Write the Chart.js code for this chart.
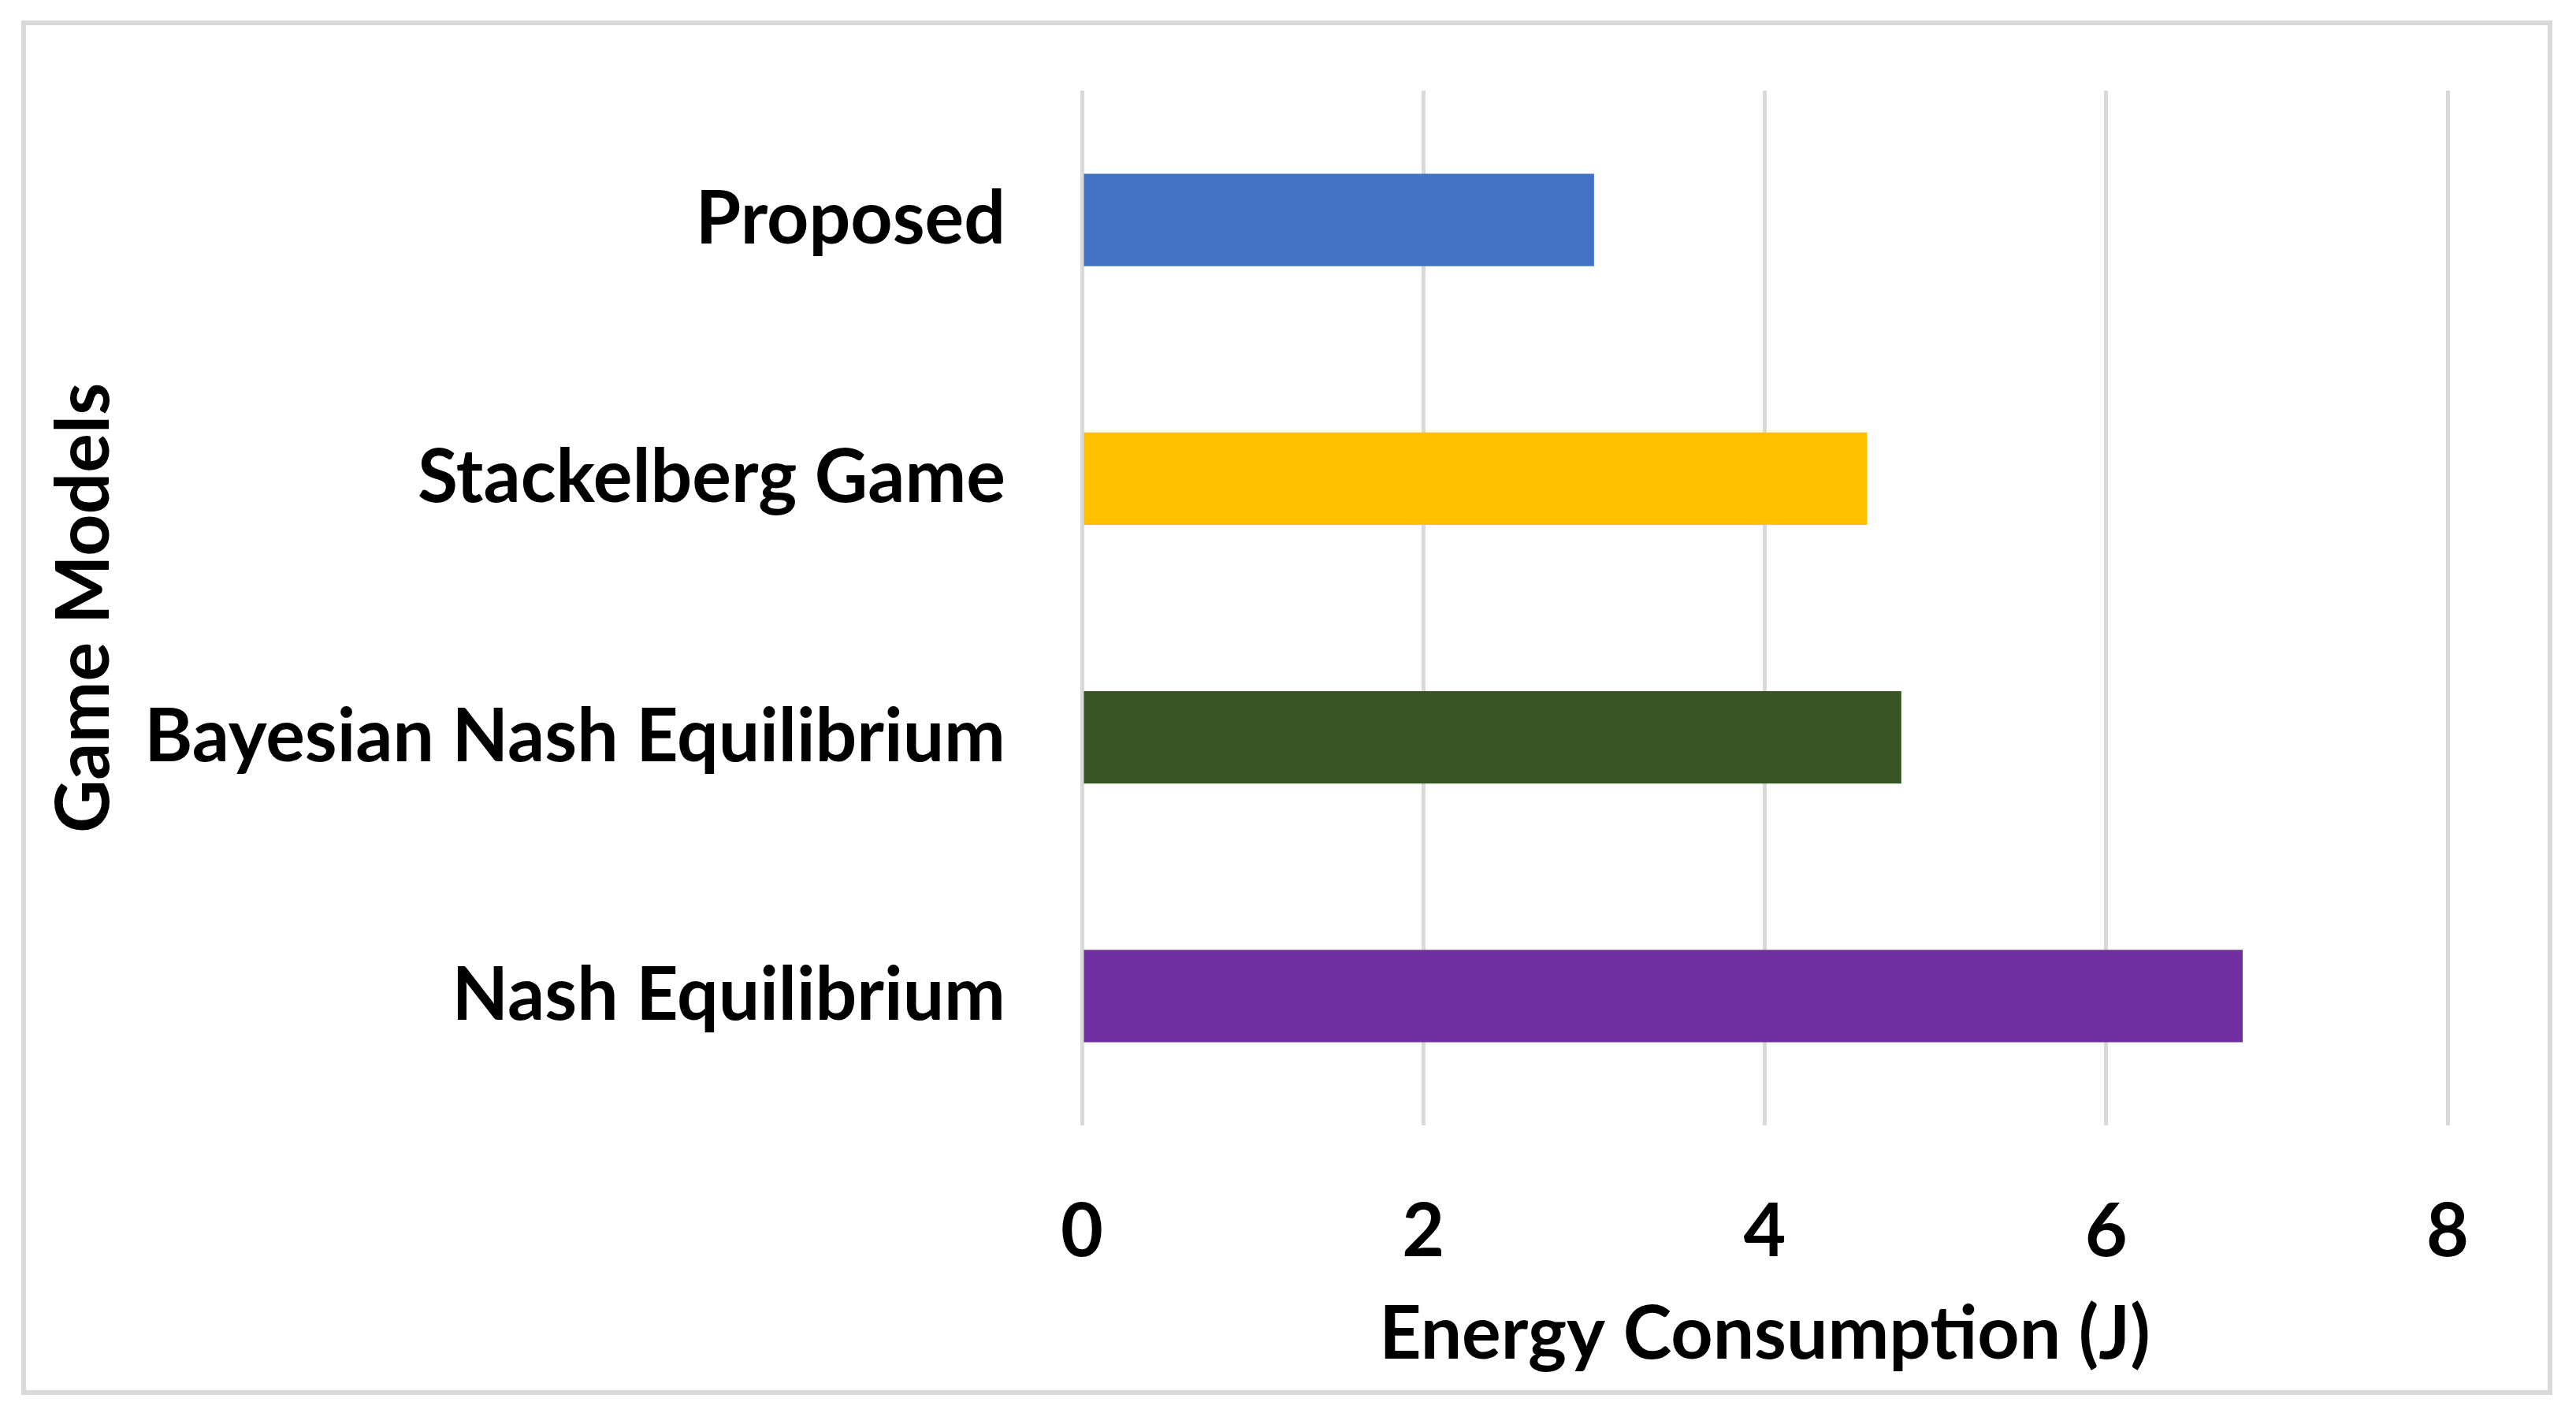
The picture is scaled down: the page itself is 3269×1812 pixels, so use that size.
<!DOCTYPE html>
<html>
<head>
<meta charset="utf-8">
<script src="https://cdn.jsdelivr.net/npm/chart.js@4/dist/chart.umd.min.js"></script>
<style>
  html, body { margin: 0; padding: 0; background: #fff; }
  #wrap { position: relative; width: 3269px; height: 1812px; }
  #frame {
    position: absolute; left: 27px; top: 26px;
    width: 3200px; height: 1732px;
    border: 6px solid #d9d9d9;
  }
  canvas { position: absolute; left: 0; top: 0; }
</style>
</head>
<body>
<div id="wrap">
  <div id="frame"></div>
  <canvas id="myChart" width="3269" height="1812"></canvas>
</div>
<script>
// data
var models = ["Proposed", "Stackelberg Game", "Bayesian Nash Equilibrium", "Nash Equilibrium"];
var energy = [3.0, 4.6, 4.8, 6.8];
var barColors = ["#4472C4", "#FFC000", "#375623", "#7030A0"];
var xTicks = [0, 2, 4, 6, 8];

var fontFam = "Lato, 'Open Sans', sans-serif";
var bigFont = { family: fontFam, size: 93, weight: "bold" };

new Chart("myChart", {
  type: "bar",
  data: {
    labels: models,
    datasets: [{
      data: energy,
      backgroundColor: barColors,
      barPercentage: 0.357,
      categoryPercentage: 1
    }]
  },
  options: {
    indexAxis: "y",
    responsive: false,
    animation: false,
    layout: { padding: { left: 0, top: 115, right: 3269 - 3106, bottom: 0 } },
    plugins: {
      legend: { display: false },
      tooltip: { enabled: false }
    },
    scales: {
      y: {
        grid: { display: false, drawTicks: false, tickLength: 0 },
        border: { display: false },
        ticks: { color: "#000", font: bigFont, padding: 97 },
        title: {
          display: true,
          text: "Game Models",
          color: "#000",
          font: bigFont,
          padding: { top: 52, bottom: 0 }
        },
        afterFit: function (scale) {
          // category labels sit mid-band, no need for extra room above/below
          scale.width = 1373;
          scale.paddingTop = 0;
          scale.paddingBottom = 0;
        }
      },
      x: {
        min: 0,
        max: 8,
        afterBuildTicks: function (scale) {
          scale.ticks = xTicks.map(function (v) { return { value: v }; });
        },
        grid: { color: "#d9d9d9", lineWidth: 5, drawTicks: false, tickLength: 0 },
        border: { display: false },
        ticks: { color: "#000", font: bigFont, padding: 80 },
        title: {
          display: true,
          text: "Energy Consumption (J)",
          color: "#000",
          font: bigFont,
          padding: { top: 0, bottom: 62 }
        },
        afterFit: function (scale) { scale.height = 1812 - 1428; }
      }
    }
  }
});
</script>
</body>
</html>
